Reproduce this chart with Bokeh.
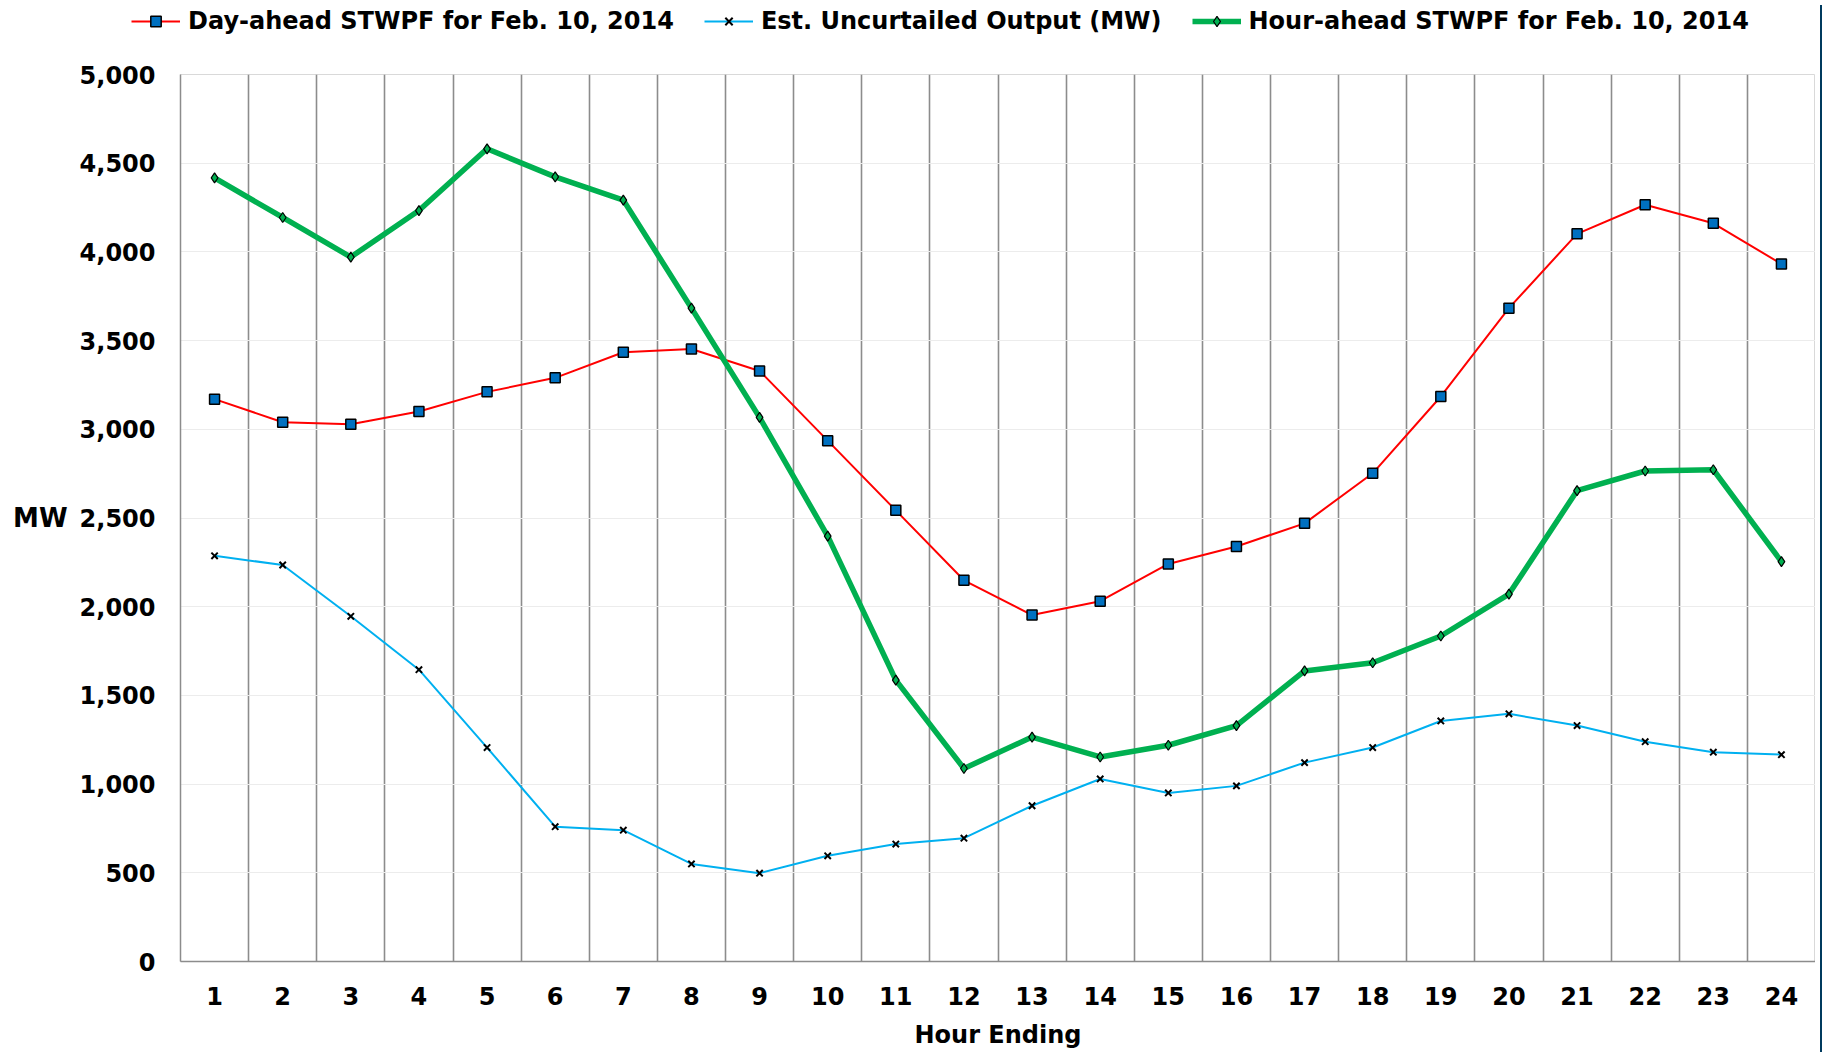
from bokeh.plotting import figure
from bokeh.models import Legend, LegendItem, FixedTicker, NumeralTickFormatter, Range1d, Div
from bokeh.layouts import row, column
from bokeh.embed import file_html
from bokeh.resources import INLINE

hours = list(range(1, 25))
day_ahead = [3170, 3040, 3028, 3100, 3211, 3290, 3434, 3453, 3329, 2936, 2543, 2149,
             1953, 2031, 2241, 2339, 2470, 2752, 3185, 3683, 4102, 4266, 4161, 3932]
uncurtailed = [2287, 2235, 1946, 1645, 1206, 760, 740, 550, 498, 596, 662, 695,
               878, 1029, 950, 990, 1121, 1206, 1356, 1396, 1330, 1239, 1180, 1166]
hour_ahead = [4417, 4194, 3971, 4233, 4581, 4423, 4292, 3683, 3067, 2398, 1586, 1088,
              1265, 1153, 1219, 1330, 1638, 1684, 1835, 2071, 2654, 2765, 2772, 2254]
y_ticks = [0, 500, 1000, 1500, 2000, 2500, 3000, 3500, 4000, 4500, 5000]
series_names = ["Day-ahead STWPF for Feb. 10, 2014", "Est. Uncurtailed Output (MW)",
                "Hour-ahead STWPF for Feb. 10, 2014"]

FONT = "DejaVu Sans"
W = 1815
LEG_H = 40
H = 1052 - LEG_H
TOP, BOTTOM, LEFT = 74 - LEG_H, 91, 180

styles = [
    dict(line=dict(line_color="#ff0000", line_width=2),
         marker=dict(marker="square", size=10, fill_color="#0070c0", line_color="black", line_width=1.5)),
    dict(line=dict(line_color="#00b0f0", line_width=2),
         marker=dict(marker="x", size=9, line_color="black", line_width=2)),
    dict(line=dict(line_color="#00b050", line_width=5.5),
         marker=dict(marker="diamond", size=10, fill_color="#00b050", line_color="black", line_width=1.2)),
]
series = [day_ahead, uncurtailed, hour_ahead]

p = figure(width=W, height=H, output_backend="svg", toolbar_location=None,
           x_range=Range1d(0.5, 24.5), y_range=Range1d(0, 5000),
           min_border_left=LEFT, min_border_right=0, min_border_top=TOP, min_border_bottom=BOTTOM)
p.outline_line_color = "#d9d9d9"
p.background_fill_color = "white"
p.border_fill_color = "white"

# grids
p.xgrid.ticker = FixedTicker(ticks=[h + 0.5 for h in hours[:-1]])
p.xgrid.grid_line_color = "#8c8c8c"
p.xgrid.grid_line_width = 1.6
p.ygrid.ticker = FixedTicker(ticks=y_ticks)
p.ygrid.grid_line_color = "#ececec"
p.ygrid.grid_line_width = 1

# axes
p.xaxis.ticker = FixedTicker(ticks=hours)
p.yaxis.ticker = FixedTicker(ticks=y_ticks)
p.yaxis.formatter = NumeralTickFormatter(format="0,0")
for ax in (p.xaxis[0], p.yaxis[0]):
    ax.axis_line_color = "#8c8c8c"
    ax.axis_line_width = 1.5
    ax.major_tick_line_color = None
    ax.minor_tick_line_color = None
    ax.major_label_text_font = FONT
    ax.major_label_text_font_style = "bold"
    ax.major_label_text_font_size = "24px"
    ax.major_label_text_color = "black"
    ax.axis_label_text_font = FONT
    ax.axis_label_text_font_style = "bold"
    ax.axis_label_text_font_size = "24px"
    ax.axis_label_text_color = "black"
p.yaxis.major_label_standoff = 19
p.xaxis.major_label_standoff = 19
p.xaxis.axis_label = "Hour Ending"
p.xaxis.axis_label_standoff = 13
yax = p.yaxis[0]
yax.axis_label = "MW"
yax.axis_label_text_font_size = "26px"
yax.axis_label_standoff = 9
if "axis_label_orientation" in yax.properties():
    yax.axis_label_orientation = "horizontal"

# series
for vals, st in zip(series, styles):
    p.line(hours, vals, **st["line"])
    p.scatter(hours, vals, **st["marker"])

# legend strip above the plot (proxy renderers, their data lies outside this strip's ranges)
lf = figure(width=W, height=LEG_H, output_backend="svg", toolbar_location=None,
            x_axis_type=None, y_axis_type=None, x_range=Range1d(-2, -1), y_range=Range1d(-2, -1),
            min_border_left=0, min_border_right=0, min_border_top=0, min_border_bottom=0)
lf.outline_line_color = None
lf.grid.visible = False
items = []
for name, vals, st in zip(series_names, series, styles):
    rl = lf.line(hours, vals, **st["line"])
    rm = lf.scatter(hours, vals, **st["marker"])
    items.append(LegendItem(label=name, renderers=[rl, rm]))

legend = Legend(items=items, orientation="horizontal", location=(131, 5))
legend.label_text_font = FONT
legend.label_text_font_style = "bold"
legend.label_text_font_size = "24px"
legend.label_text_color = "black"
legend.glyph_width = 49
legend.glyph_height = 26
legend.spacing = 30
legend.label_standoff = 8
legend.padding = 0
legend.margin = 0
legend.border_line_color = None
legend.background_fill_alpha = 0
lf.add_layout(legend, "center")

bar = Div(width=7, height=1052, styles={"background-color": "#003a5e"})
layout = row(column(row(lf, spacing=0), row(p, spacing=0), spacing=0), bar, spacing=0)

open("out.html", "w").write(file_html(layout, INLINE))
